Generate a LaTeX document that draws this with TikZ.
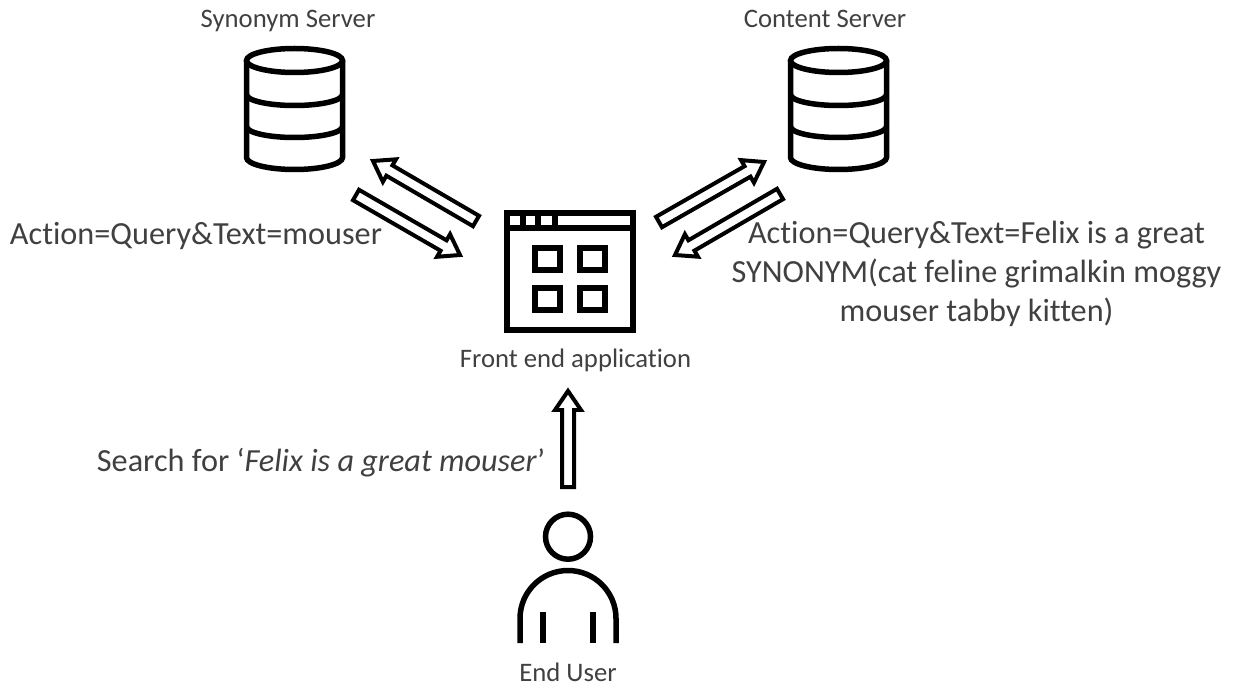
\documentclass[tikz,border=0pt]{standalone}
\usepackage{fontspec}
\setmainfont{Carlito}[Ligatures=NoCommon]
\usetikzlibrary{calc}
\definecolor{labelgrey}{HTML}{404040}
\begin{document}
\begin{tikzpicture}[x=0.02cm,y=0.02cm]
\tikzstyle{biglabel}=[text=labelgrey,inner sep=0pt,anchor=base,font=\fontsize{18.35pt}{22.1pt}\selectfont]
\tikzstyle{smalllabel}=[text=labelgrey,inner sep=0pt,anchor=base,font=\fontsize{15.2pt}{18pt}\selectfont]
\tikzstyle{icon}=[line width=0.11cm]
\tikzstyle{blockarrow}=[draw,line width=0.08cm,miter limit=10,to path={
  ($(\tikztostart)!0.12cm!90:(\tikztotarget)$)
  -- ($(\tikztotarget)!0.38cm!(\tikztostart)!0.12cm!90:(\tikztotarget)$)
  -- ($(\tikztotarget)!0.38cm!(\tikztostart)!0.26cm!90:(\tikztotarget)$)
  -- (\tikztotarget)
  -- ($(\tikztotarget)!0.38cm!(\tikztostart)!0.26cm!-90:(\tikztotarget)$)
  -- ($(\tikztotarget)!0.38cm!(\tikztostart)!0.12cm!-90:(\tikztotarget)$)
  -- ($(\tikztostart)!0.12cm!-90:(\tikztotarget)$) -- cycle}]
\tikzset{dbicon/.pic={
  \draw[icon] (0,0) ellipse [x radius=48,y radius=12];
  \draw[icon] (-48,0) -- (-48,-97) arc [start angle=180,end angle=360,x radius=48,y radius=12] -- (48,0);
  \draw[icon] (-48,-34) arc [start angle=180,end angle=360,x radius=48,y radius=11];
  \draw[icon] (-48,-66) arc [start angle=180,end angle=360,x radius=48,y radius=11];
}}
\useasboundingbox (0,0) rectangle (1239,687);
% servers
\pic at (294.5,626.5) {dbicon};
\pic at (838.5,626.5) {dbicon};
\node[smalllabel] (synonym) at (288,659.5) {Synonym Server};
\node[smalllabel] (content) at (825,659.5) {Content Server};
% front end window
\draw[line width=0.12cm] (507,357) rectangle (633,474);
\draw[line width=0.12cm] (507,459) -- (633,459);
\foreach \x in {522.7,538,555}
  \draw[line width=0.12cm] (\x,474) -- (\x,459);
\foreach \x/\y in {535/417,580/417,535/377,580/377}
  \draw[line width=0.12cm] (\x,\y) rectangle ++(25,22);
\node[smalllabel] (frontend) at (575.5,320) {Front end application};
% end user
\draw[icon] (568,150.3) circle (22.5);
\draw[icon] (520,44) -- (520,68.5) arc [start angle=180,end angle=0,radius=48] -- (616,44);
\draw[icon] (543,44) -- (543,75);
\draw[icon] (593,44) -- (593,75);
\node[smalllabel] (enduser) at (568,5.5) {End User};
% arrows
\coordinate (A1) at (476,466);
\coordinate (A2) at (373,526);
\coordinate (B1) at (356,492);
\coordinate (B2) at (460,432);
\coordinate (C1) at (659,465);
\coordinate (C2) at (764,525);
\coordinate (D1) at (780,493);
\coordinate (D2) at (675,432);
\coordinate (E1) at (568,200);
\coordinate (E2) at (568,296);
\draw[blockarrow] (A1) to (A2);
\draw[blockarrow] (B1) to (B2);
\draw[blockarrow] (C1) to (C2);
\draw[blockarrow] (D1) to (D2);
\draw[blockarrow] (E1) to (E2);
% texts
\node[biglabel] (synquery) at (196,442.5) {Action=Query\&Text=mouser};
\node[biglabel,anchor=center,align=center] (contentquery) at (976.5,413) {Action=Query\&Text=Felix is a great\\SYNONYM(cat feline grimalkin moggy\\mouser tabby kitten)};
\node[biglabel] (search) at (321,216) {Search for ‘\textit{Felix is a great mouser}’};
\end{tikzpicture}
\end{document}
